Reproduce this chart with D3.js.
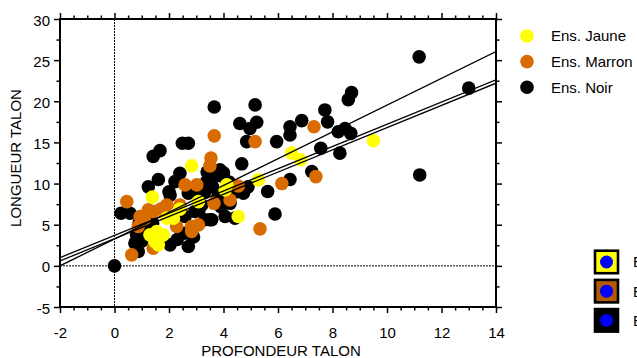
<!DOCTYPE html>
<html><head><meta charset="utf-8">
<script src="https://cdn.jsdelivr.net/npm/d3@7"></script>
<style>body{margin:0;background:#fff;overflow:hidden}svg{display:block;font-family:"Liberation Sans",Arial,sans-serif}</style>
</head><body><svg id="c" width="637" height="358"></svg>
<script>
// ---- data ----
const seriesNames = ["Ens. Jaune", "Ens. Marron", "Ens. Noir"];
const seriesColors = ["#ffff00", "#d96c00", "#000000"];
const boxColors = ["#ffff00", "#b35a00", "#000000"];
const xTicks = [-2, 0, 2, 4, 6, 8, 10, 12, 14];
const yTicks = [-5, 0, 5, 10, 15, 20, 25, 30];
const lineIntercepts = [3.26, 3.7, 3.3];
const lineSlopes = [1.628, 1.35, 1.35];
const noir = [
 [0,0],[11.18,25.4],[13.0,21.6],[11.2,11.05],[5.16,19.56],[4.6,17.3],[4.97,16.7],[5.22,17.46],
 [4.85,15.1],[5.95,15.1],[6.44,16.9],[6.44,15.9],[6.87,17.65],[7.72,18.95],[7.82,17.5],[8.58,20.2],
 [8.7,21.05],[8.21,16.3],[8.46,16.7],[8.67,16.1],[8.27,13.7],[7.57,14.3],[4.67,12.4],[7.24,11.46],
 [6.44,10.5],[5.62,9.03],[4.73,8.83],[4.42,5.8],[5.89,6.3],[3.66,19.3],[2.49,14.9],[2.71,14.9],
 [1.67,14.0],[1.42,13.3],[3.87,11.67],[1.61,10.5],[2.4,11.26],[2.22,10.24],[1.24,9.6],[3.38,10.24],
 [3.99,10.85],[0.24,6.4],[0.57,6.4],[2.04,8.6],[2.71,8.83],[2.95,6.6],[3.5,5.6],[4.06,6.0],
 [2.59,6.0],[3.32,5.6],[2.59,3.97],[2.71,2.35],[0.87,1.74],[0.75,2.76],[0.81,3.77],[2.04,2.55],
 [4.24,7.6],[3.57,5.6],[3.8,8.5],[3.3,8.9],[3.0,9.0],[2.0,9.0],[1.8,7.0],[3.9,7.2],[4.4,9.4],
 [3.6,9.6],[1.1,4.5],[1.0,3.0],[2.3,3.2],[3.1,6.8],[0.9,5.2],[4.0,11.3],[3.7,10.9],[4.2,10.2],
 [3.4,11.4],[4.5,9.0],[3.2,7.4],[1.4,5.2],[2.9,3.5],[4.9,9.6],[3.75,8.0]
];
const marron = [
 [0.45,7.8],[0.94,6.0],[1.24,6.8],[1.42,6.6],[1.92,7.4],[2.59,9.84],[3.02,9.84],[2.4,7.4],
 [3.65,7.6],[2.28,4.78],[2.83,4.78],[3.08,4.98],[2.83,4.17],[1.42,2.15],[0.63,1.34],[0.87,4.78],
 [3.66,15.8],[3.54,13.1],[3.5,12.15],[4.24,8.0],[4.54,9.7],[5.16,15.1],[5.34,4.5],[6.14,10.0],
 [7.32,16.9],[7.39,10.85],[1.1,5.6],[1.7,6.9]
];
const jaune = [
 [1.39,8.35],[2.83,12.15],[1.3,3.77],[1.55,4.17],[1.79,3.77],[1.49,2.95],[1.61,2.55],[1.92,5.8],
 [2.16,5.8],[2.4,6.9],[3.08,7.8],[4.06,9.23],[4.12,9.84],[4.54,6.0],[5.28,10.45],[6.5,13.7],
 [6.83,12.9],[9.5,15.2]
];
// ---- layout ----
const svg = d3.select("#c");
const L = 60, R = 496, T = 19, B = 307;
const x = d3.scaleLinear().domain([-2, 14]).range([L, R]);
const y = d3.scaleLinear().domain([-5, 30]).range([B, T]);
const fs = 15;
const fmt = d => String(d);

svg.append("clipPath").attr("id","clip").append("rect").attr("x",L).attr("y",T).attr("width",R-L).attr("height",B-T);

// zero dotted lines
svg.append("line").attr("x1",x(0)).attr("x2",x(0)).attr("y1",T).attr("y2",B)
  .attr("stroke","#000").attr("stroke-width",1).attr("stroke-dasharray","2,1");
svg.append("line").attr("x1",L).attr("x2",R).attr("y1",y(0)).attr("y2",y(0))
  .attr("stroke","#000").attr("stroke-width",1).attr("stroke-dasharray","2,1");

// points
const groups = [noir, marron, jaune];
const gcol = ["#000000", "#d96c00", "#ffff00"];
const pg = svg.append("g").attr("clip-path","url(#clip)");
groups.forEach((pts, i) => {
  pg.selectAll(null).data(pts).enter().append("circle")
    .attr("cx", d => x(d[0])).attr("cy", d => y(d[1])).attr("r", 6.8)
    .attr("fill", gcol[i]);
});

// regression lines
const lg = svg.append("g").attr("clip-path","url(#clip)");
lineIntercepts.forEach((b, i) => {
  lg.append("line").attr("x1", x(-2)).attr("y1", y(b + lineSlopes[i]*-2))
    .attr("x2", x(14)).attr("y2", y(b + lineSlopes[i]*14))
    .attr("stroke","#000").attr("stroke-width",1.3);
});

// axes
const minorX = d3.range(-2, 14.01, 0.5).filter(v => Math.abs(v/2 - Math.round(v/2)) > 1e-6);
const minorY = d3.range(-5, 30.01, 2.5).filter(v => Math.abs(v/5 - Math.round(v/5)) > 1e-6);
function styleAxis(g){ g.select(".domain").remove(); g.selectAll("line").attr("stroke","#000").attr("stroke-width",1.5); g.selectAll("text").attr("font-size",fs).attr("fill","#000").attr("font-family","Liberation Sans, Arial, sans-serif"); }
svg.append("g").attr("transform",`translate(0,${B})`).call(d3.axisBottom(x).tickValues(xTicks).tickSize(6).tickPadding(25).tickFormat(fmt)).call(styleAxis).selectAll("text").attr("dy","0");
svg.append("g").attr("transform",`translate(0,${B})`).call(d3.axisBottom(x).tickValues(minorX).tickSize(3.5).tickFormat("")).call(styleAxis);
svg.append("g").attr("transform",`translate(0,${T})`).call(d3.axisTop(x).tickValues(xTicks).tickSize(6).tickFormat("")).call(styleAxis);
svg.append("g").attr("transform",`translate(0,${T})`).call(d3.axisTop(x).tickValues(minorX).tickSize(3.5).tickFormat("")).call(styleAxis);
svg.append("g").attr("transform",`translate(${L},0)`).call(d3.axisLeft(y).tickValues(yTicks).tickSize(6).tickPadding(4).tickFormat(fmt)).call(styleAxis).selectAll("text").attr("dy","0.4em");
svg.append("g").attr("transform",`translate(${L},0)`).call(d3.axisLeft(y).tickValues(minorY).tickSize(3.5).tickFormat("")).call(styleAxis);
svg.append("g").attr("transform",`translate(${R},0)`).call(d3.axisRight(y).tickValues(yTicks).tickSize(6).tickFormat("")).call(styleAxis);
svg.append("g").attr("transform",`translate(${R},0)`).call(d3.axisRight(y).tickValues(minorY).tickSize(3.5).tickFormat("")).call(styleAxis);
svg.append("rect").attr("x",L).attr("y",T).attr("width",R-L).attr("height",B-T).attr("fill","none").attr("stroke","#000").attr("stroke-width",2);

// titles
svg.append("text").attr("x",281).attr("y",356).attr("text-anchor","middle").attr("font-size",fs).text("PROFONDEUR TALON");
svg.append("text").attr("transform","translate(21,158) rotate(-90)").attr("text-anchor","middle").attr("font-size",fs).text("LONGUEUR TALON");

// legend top-right
seriesNames.forEach((n, i) => {
  const cy = 36 + i*25.6;
  svg.append("circle").attr("cx",527).attr("cy",cy).attr("r",6.8).attr("fill",seriesColors[i]);
  svg.append("text").attr("x",551).attr("y",cy).attr("dy","0.36em").attr("font-size",fs).text(n);
});
// legend bottom-right (its labels run past the right edge, as in the reference)
seriesNames.forEach((n, i) => {
  const top = 249.5 + i*29.2;
  svg.append("rect").attr("x",595).attr("y",top+1.2).attr("width",23).attr("height",22.5)
    .attr("fill",boxColors[i]).attr("stroke","#000").attr("stroke-width",2.6);
  svg.append("circle").attr("cx",606.5).attr("cy",top+12.5).attr("r",6.5).attr("fill","#0000ff");
  svg.append("text").attr("x",633).attr("y",top+12.5).attr("dy","0.36em").attr("font-size",fs).text(n);
});
</script></body></html>
